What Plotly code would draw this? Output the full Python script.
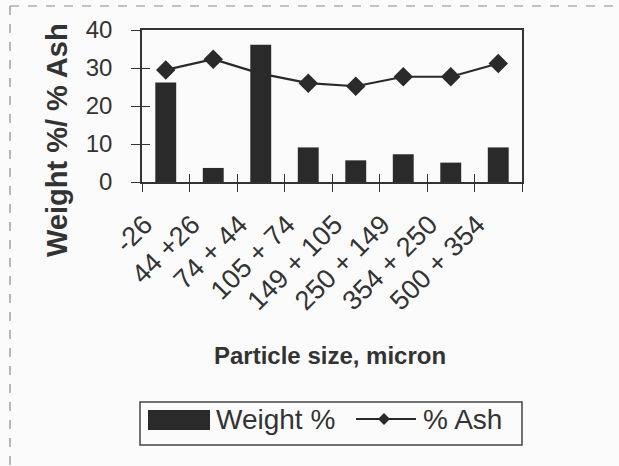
import plotly.graph_objects as go

# Particle-size fractions (micron) and their measured values
size_fractions = ["-26", "44 +26", "74 + 44", "105 + 74", "149 + 105",
                  "250 + 149", "354 + 250", "500 + 354"]
weight_pct = [26.2, 3.7, 36.1, 9.1, 5.7, 7.3, 5.1, 9.1]
ash_pct = [29.5, 32.3, 28.5, 26.0, 25.2, 27.7, 27.7, 31.2]
y_ticks = [0, 10, 20, 30, 40]

W, H = 619, 466
L, R, T, B = 142, 522, 30, 182  # plot area in pixels

def px(x):
    return (x - L) / (R - L)

def py(y):
    return (B - y) / (B - T)

INK = "#2a2a2a"
FONT = "Liberation Sans, Arial, sans-serif"

# rotated category labels, padded so they sit a little below-left of each slot
tick_text = [s + "\u00a0\u00a0\u00a0\u00a0" for s in size_fractions]

fig = go.Figure()
fig.add_trace(go.Bar(
    x=size_fractions, y=weight_pct, name="Weight %",
    marker=dict(color=INK, line=dict(width=0)),
    xaxis="x", yaxis="y", showlegend=False,
))
fig.add_trace(go.Scatter(
    x=size_fractions, y=ash_pct, name="% Ash", mode="lines+markers",
    line=dict(color=INK, width=2.2),
    marker=dict(symbol="diamond", size=15, color=INK),
    xaxis="x2", yaxis="y2", showlegend=False,
))

axis_common = dict(linecolor="#333", linewidth=1.5, showgrid=False, zeroline=False)
fig.update_layout(
    width=W, height=H,
    margin=dict(l=L, r=W - R, t=T, b=H - B),
    paper_bgcolor="#fbfbfb", plot_bgcolor="#fbfbfb",
    font=dict(family=FONT, color="#333"),
    bargap=0.56,
    xaxis=dict(type="category", categoryarray=size_fractions, range=[-0.5, 7.5],
               tickmode="array", tickvals=size_fractions, ticktext=tick_text,
               tickson="boundaries", ticks="outside", ticklen=8, tickwidth=1.2,
               tickcolor="#333", tickangle=-45, tickfont=dict(size=27),
               ticklabelstandoff=-7,
               mirror=True, showline=True, **axis_common),
    xaxis2=dict(type="category", categoryarray=size_fractions, range=[-0.5, 7.5],
                overlaying="x", tickson="boundaries", ticks="inside", ticklen=8,
                tickwidth=1.2, tickcolor="#333", showticklabels=False,
                showline=False, showgrid=False, zeroline=False),
    yaxis=dict(range=[0, 40], tickvals=y_ticks, ticks="outside", ticklen=9,
               tickwidth=1.2, tickcolor="#333", tickfont=dict(size=24),
               ticklabelstandoff=14, mirror=True, showline=True, **axis_common),
    yaxis2=dict(range=[0, 40], tickvals=y_ticks, overlaying="y", side="left",
                ticks="inside", ticklen=8, tickwidth=1.2, tickcolor="#333",
                showticklabels=False, showline=False, showgrid=False, zeroline=False),
)

# Axis titles
fig.add_annotation(text="<b>Weight %/ % Ash</b>", textangle=-90,
                   x=px(57), y=py(140), xref="paper", yref="paper",
                   showarrow=False, font=dict(size=29, color="#333"),
                   xanchor="center", yanchor="middle")
fig.add_annotation(text="<b>Particle size, micron</b>",
                   x=px(330), y=py(356), xref="paper", yref="paper",
                   showarrow=False, font=dict(size=24, color="#333"),
                   xanchor="center", yanchor="middle")

# Chart-area border (dashed, left and top edges)
border = dict(color="#8a8a8a", width=1.2, dash="dash")
fig.add_shape(type="line", xref="paper", yref="paper",
              x0=px(10), x1=px(10), y0=py(6), y1=py(470), line=border)
fig.add_shape(type="line", xref="paper", yref="paper",
              x0=px(10), x1=px(625), y0=py(6), y1=py(6), line=border)

# Legend box
fig.add_shape(type="rect", xref="paper", yref="paper",
              x0=px(140), x1=px(522), y0=py(445), y1=py(402),
              line=dict(color="#444", width=1.5), fillcolor="rgba(0,0,0,0)")
fig.add_shape(type="rect", xref="paper", yref="paper",
              x0=px(148), x1=px(210), y0=py(430), y1=py(410),
              line=dict(width=0), fillcolor=INK)
fig.add_annotation(text="Weight %", x=px(214), y=py(419), xref="paper", yref="paper",
                   showarrow=False, xanchor="left", yanchor="middle",
                   font=dict(size=28, color="#333"))
fig.add_shape(type="line", xref="paper", yref="paper",
              x0=px(356), x1=px(416), y0=py(419), y1=py(419),
              line=dict(color=INK, width=2))
fig.add_shape(type="path", xref="paper", yref="paper",
              path=(f"M {px(384)},{py(413)} L {px(390)},{py(419)} "
                    f"L {px(384)},{py(425)} L {px(378)},{py(419)} Z"),
              line=dict(width=0), fillcolor=INK)
fig.add_annotation(text="% Ash", x=px(421), y=py(419), xref="paper", yref="paper",
                   showarrow=False, xanchor="left", yanchor="middle",
                   font=dict(size=28, color="#333"))

fig.write_html("out.html")
